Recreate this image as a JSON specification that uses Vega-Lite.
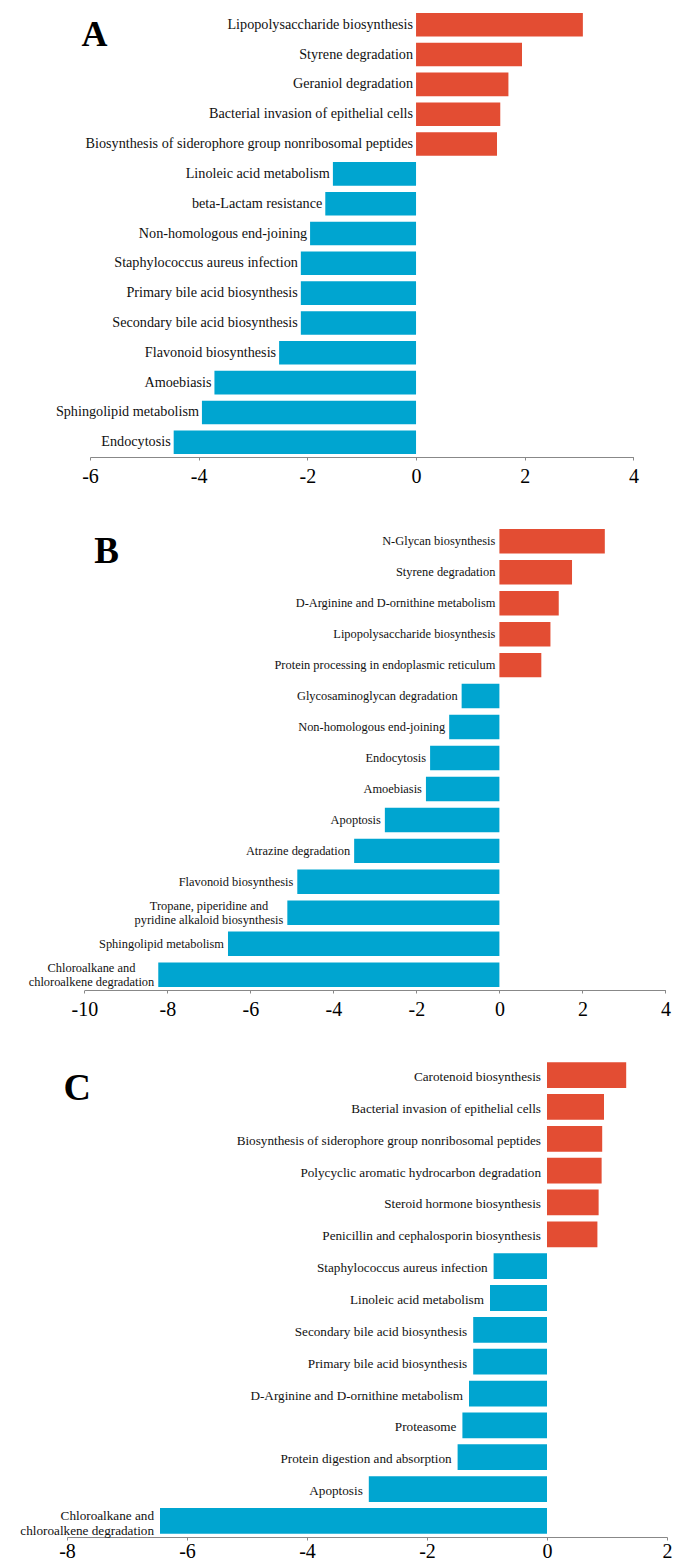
{
  "$schema": "https://vega.github.io/schema/vega-lite/v6.json",
  "background": "white",
  "padding": {"left": 20, "top": 10, "right": 0, "bottom": 0},
  "bounds": "flush",
  "spacing": 69,
  "config": {"view": {"stroke": null}, "font": "Liberation Serif"},
  "datasets": {
    "A": [
      {"pathway": "Lipopolysaccharide biosynthesis", "label": "Lipopolysaccharide biosynthesis", "value": 3.07},
      {"pathway": "Styrene degradation", "label": "Styrene degradation", "value": 1.95},
      {"pathway": "Geraniol degradation", "label": "Geraniol degradation", "value": 1.70},
      {"pathway": "Bacterial invasion of epithelial cells", "label": "Bacterial invasion of epithelial cells", "value": 1.55},
      {"pathway": "Biosynthesis of siderophore group nonribosomal peptides", "label": "Biosynthesis of siderophore group nonribosomal peptides", "value": 1.49},
      {"pathway": "Linoleic acid metabolism", "label": "Linoleic acid metabolism", "value": -1.53},
      {"pathway": "beta-Lactam resistance", "label": "beta-Lactam resistance", "value": -1.67},
      {"pathway": "Non-homologous end-joining", "label": "Non-homologous end-joining", "value": -1.95},
      {"pathway": "Staphylococcus aureus infection", "label": "Staphylococcus aureus infection", "value": -2.12},
      {"pathway": "Primary bile acid biosynthesis", "label": "Primary bile acid biosynthesis", "value": -2.12},
      {"pathway": "Secondary bile acid biosynthesis", "label": "Secondary bile acid biosynthesis", "value": -2.12},
      {"pathway": "Flavonoid biosynthesis", "label": "Flavonoid biosynthesis", "value": -2.52},
      {"pathway": "Amoebiasis", "label": "Amoebiasis", "value": -3.71},
      {"pathway": "Sphingolipid metabolism", "label": "Sphingolipid metabolism", "value": -3.94},
      {"pathway": "Endocytosis", "label": "Endocytosis", "value": -4.46}
    ],
    "B": [
      {"pathway": "N-Glycan biosynthesis", "label": "N-Glycan biosynthesis", "value": 2.54},
      {"pathway": "Styrene degradation", "label": "Styrene degradation", "value": 1.75},
      {"pathway": "D-Arginine and D-ornithine metabolism", "label": "D-Arginine and D-ornithine metabolism", "value": 1.43},
      {"pathway": "Lipopolysaccharide biosynthesis", "label": "Lipopolysaccharide biosynthesis", "value": 1.23},
      {"pathway": "Protein processing in endoplasmic reticulum", "label": "Protein processing in endoplasmic reticulum", "value": 1.01},
      {"pathway": "Glycosaminoglycan degradation", "label": "Glycosaminoglycan degradation", "value": -0.91},
      {"pathway": "Non-homologous end-joining", "label": "Non-homologous end-joining", "value": -1.21},
      {"pathway": "Endocytosis", "label": "Endocytosis", "value": -1.67},
      {"pathway": "Amoebiasis", "label": "Amoebiasis", "value": -1.77},
      {"pathway": "Apoptosis", "label": "Apoptosis", "value": -2.76},
      {"pathway": "Atrazine degradation", "label": "Atrazine degradation", "value": -3.50},
      {"pathway": "Flavonoid biosynthesis", "label": "Flavonoid biosynthesis", "value": -4.87},
      {"pathway": "Tropane, piperidine and pyridine alkaloid biosynthesis", "label": "Tropane, piperidine and\npyridine alkaloid biosynthesis", "value": -5.11},
      {"pathway": "Sphingolipid metabolism", "label": "Sphingolipid metabolism", "value": -6.54},
      {"pathway": "Chloroalkane and chloroalkene degradation", "label": "Chloroalkane and\nchloroalkene degradation", "value": -8.22}
    ],
    "C": [
      {"pathway": "Carotenoid biosynthesis", "label": "Carotenoid biosynthesis", "value": 1.32},
      {"pathway": "Bacterial invasion of epithelial cells", "label": "Bacterial invasion of epithelial cells", "value": 0.95},
      {"pathway": "Biosynthesis of siderophore group nonribosomal peptides", "label": "Biosynthesis of siderophore group nonribosomal peptides", "value": 0.92},
      {"pathway": "Polycyclic aromatic hydrocarbon degradation", "label": "Polycyclic aromatic hydrocarbon degradation", "value": 0.91},
      {"pathway": "Steroid hormone biosynthesis", "label": "Steroid hormone biosynthesis", "value": 0.86},
      {"pathway": "Penicillin and cephalosporin biosynthesis", "label": "Penicillin and cephalosporin biosynthesis", "value": 0.84},
      {"pathway": "Staphylococcus aureus infection", "label": "Staphylococcus aureus infection", "value": -0.89},
      {"pathway": "Linoleic acid metabolism", "label": "Linoleic acid metabolism", "value": -0.95},
      {"pathway": "Secondary bile acid biosynthesis", "label": "Secondary bile acid biosynthesis", "value": -1.23},
      {"pathway": "Primary bile acid biosynthesis", "label": "Primary bile acid biosynthesis", "value": -1.23},
      {"pathway": "D-Arginine and D-ornithine metabolism", "label": "D-Arginine and D-ornithine metabolism", "value": -1.30},
      {"pathway": "Proteasome", "label": "Proteasome", "value": -1.41},
      {"pathway": "Protein digestion and absorption", "label": "Protein digestion and absorption", "value": -1.49},
      {"pathway": "Apoptosis", "label": "Apoptosis", "value": -2.97},
      {"pathway": "Chloroalkane and chloroalkene degradation", "label": "Chloroalkane and\nchloroalkene degradation", "value": -6.45}
    ]
  },
  "vconcat": [
    {
      "width": 566.4,
      "height": 447,
      "data": {"name": "A"},
      "encoding": {
        "y": {"field": "pathway", "type": "nominal", "sort": null, "axis": null, "scale": {"paddingInner": 0.21, "paddingOuter": 0.1}}
      },
      "layer": [
        {
          "mark": {"type": "bar"},
          "encoding": {
            "x": {"field": "value", "type": "quantitative", "scale": {"domain": [-6, 4], "range": [23, 566.4], "nice": false, "zero": false},
              "axis": {"values": [-6, -4, -2, 0, 2, 4], "title": null, "grid": false, "labelExpr": "'' + datum.value", "labelFont": "Liberation Serif", "labelFontSize": 20, "labelColor": "black", "tickColor": "#888", "domainColor": "#888", "tickSize": 3, "labelPadding": 6, "labelFlush": false}},
            "color": {"condition": {"test": "datum.value > 0", "value": "#E34D33"}, "value": "#00A5D0"}
          }
        },
        {
          "transform": [{"filter": "datum.pathway == 'Lipopolysaccharide biosynthesis'"}],
          "mark": {"type": "rule", "color": "#444", "strokeWidth": 1}, "encoding": {"x": {"datum": 0}}
        },
        {
          "transform": [{"filter": "datum.value < 0"}],
          "mark": {"type": "text", "align": "right", "baseline": "middle", "dx": -3, "font": "Liberation Serif", "fontSize": 14.2, "color": "#111"},
          "encoding": {"x": {"field": "value", "type": "quantitative"}, "text": {"field": "label"}}
        },
        {
          "transform": [{"filter": "datum.value > 0"}],
          "mark": {"type": "text", "align": "right", "baseline": "middle", "dx": -3, "font": "Liberation Serif", "fontSize": 14.2, "color": "#111"},
          "encoding": {"x": {"datum": 0}, "text": {"field": "label"}}
        },
        {
          "transform": [{"filter": "datum.pathway == 'Lipopolysaccharide biosynthesis'"}],
          "mark": {"type": "text", "text": "A", "align": "left", "baseline": "alphabetic", "dy": 21.7, "font": "Liberation Serif", "fontWeight": "bold", "fontSize": 36, "color": "black"},
          "encoding": {"x": {"datum": -6.155}, "y": {"datum": "Lipopolysaccharide biosynthesis"}}
        }
      ]
    },
    {
      "width": 598.4,
      "height": 464,
      "data": {"name": "B"},
      "encoding": {
        "y": {"field": "pathway", "type": "nominal", "sort": null, "axis": null, "scale": {"paddingInner": 0.21, "paddingOuter": 0.1}}
      },
      "layer": [
        {
          "mark": {"type": "bar"},
          "encoding": {
            "x": {"field": "value", "type": "quantitative", "scale": {"domain": [-10, 4], "range": [17.4, 598.4], "nice": false, "zero": false},
              "axis": {"values": [-10, -8, -6, -4, -2, 0, 2, 4], "title": null, "grid": false, "labelExpr": "'' + datum.value", "labelFont": "Liberation Serif", "labelFontSize": 20, "labelColor": "black", "tickColor": "#888", "domainColor": "#888", "tickSize": 3, "labelPadding": 6, "labelFlush": false}},
            "color": {"condition": {"test": "datum.value > 0", "value": "#E34D33"}, "value": "#00A5D0"}
          }
        },
        {
          "transform": [{"filter": "datum.pathway == 'N-Glycan biosynthesis'"}],
          "mark": {"type": "rule", "color": "#444", "strokeWidth": 1}, "encoding": {"x": {"datum": 0}}
        },
        {
          "transform": [{"filter": "datum.value < 0 && indexof(datum.label, '\\n') < 0"}],
          "mark": {"type": "text", "align": "right", "baseline": "middle", "dx": -4, "font": "Liberation Serif", "fontSize": 12.4, "color": "#111"},
          "encoding": {"x": {"field": "value", "type": "quantitative"}, "text": {"field": "label"}}
        },
        {
          "transform": [{"filter": "datum.pathway == 'Tropane, piperidine and pyridine alkaloid biosynthesis'"}],
          "mark": {"type": "text", "align": "center", "baseline": "middle", "dx": -78.4, "dy": -7.1, "font": "Liberation Serif", "fontSize": 12.4, "color": "#111", "lineBreak": "\n", "lineHeight": 14.2},
          "encoding": {"x": {"field": "value", "type": "quantitative"}, "text": {"field": "label"}}
        },
        {
          "transform": [{"filter": "datum.pathway == 'Chloroalkane and chloroalkene degradation'"}],
          "mark": {"type": "text", "align": "center", "baseline": "middle", "dx": -66.8, "dy": -7.1, "font": "Liberation Serif", "fontSize": 12.4, "color": "#111", "lineBreak": "\n", "lineHeight": 14.2},
          "encoding": {"x": {"field": "value", "type": "quantitative"}, "text": {"field": "label"}}
        },
        {
          "transform": [{"filter": "datum.value > 0"}],
          "mark": {"type": "text", "align": "right", "baseline": "middle", "dx": -4, "font": "Liberation Serif", "fontSize": 12.4, "color": "#111"},
          "encoding": {"x": {"datum": 0}, "text": {"field": "label"}}
        },
        {
          "transform": [{"filter": "datum.pathway == 'N-Glycan biosynthesis'"}],
          "mark": {"type": "text", "text": "B", "align": "left", "baseline": "alphabetic", "dy": 21.5, "font": "Liberation Serif", "fontWeight": "bold", "fontSize": 37, "color": "black"},
          "encoding": {"x": {"datum": -9.76}, "y": {"datum": "N-Glycan biosynthesis"}}
        }
      ]
    },
    {
      "width": 600,
      "height": 478,
      "data": {"name": "C"},
      "encoding": {
        "y": {"field": "pathway", "type": "nominal", "sort": null, "axis": null, "scale": {"paddingInner": 0.19, "paddingOuter": 0.1}}
      },
      "layer": [
        {
          "mark": {"type": "bar"},
          "encoding": {
            "x": {"field": "value", "type": "quantitative", "scale": {"domain": [-8, 2], "range": [0, 600], "nice": false, "zero": false},
              "axis": {"values": [-8, -6, -4, -2, 0, 2], "title": null, "grid": false, "labelExpr": "'' + datum.value", "labelFont": "Liberation Serif", "labelFontSize": 20, "labelColor": "black", "tickColor": "#888", "domainColor": "#888", "tickSize": 3, "labelPadding": 1, "labelFlush": false}},
            "color": {"condition": {"test": "datum.value > 0", "value": "#E34D33"}, "value": "#00A5D0"}
          }
        },
        {
          "transform": [{"filter": "datum.pathway == 'Carotenoid biosynthesis'"}],
          "mark": {"type": "rule", "color": "#444", "strokeWidth": 1}, "encoding": {"x": {"datum": 0}}
        },
        {
          "transform": [{"filter": "datum.value < 0 && indexof(datum.label, '\\n') < 0"}],
          "mark": {"type": "text", "align": "right", "baseline": "middle", "dx": -6, "dy": 2, "font": "Liberation Serif", "fontSize": 13.2, "color": "#111"},
          "encoding": {"x": {"field": "value", "type": "quantitative"}, "text": {"field": "label"}}
        },
        {
          "transform": [{"filter": "datum.value < 0 && indexof(datum.label, '\\n') >= 0"}],
          "mark": {"type": "text", "align": "right", "baseline": "middle", "dx": -6, "dy": -5, "font": "Liberation Serif", "fontSize": 13.2, "color": "#111", "lineBreak": "\n", "lineHeight": 14.9},
          "encoding": {"x": {"field": "value", "type": "quantitative"}, "text": {"field": "label"}}
        },
        {
          "transform": [{"filter": "datum.value > 0"}],
          "mark": {"type": "text", "align": "right", "baseline": "middle", "dx": -6, "dy": 2, "font": "Liberation Serif", "fontSize": 13.2, "color": "#111"},
          "encoding": {"x": {"datum": 0}, "text": {"field": "label"}}
        },
        {
          "transform": [{"filter": "datum.pathway == 'Carotenoid biosynthesis'"}],
          "mark": {"type": "text", "text": "C", "align": "left", "baseline": "alphabetic", "dy": 25, "font": "Liberation Serif", "fontWeight": "bold", "fontSize": 38, "color": "black"},
          "encoding": {"x": {"datum": -8.06}, "y": {"datum": "Carotenoid biosynthesis"}}
        }
      ]
    }
  ]
}
